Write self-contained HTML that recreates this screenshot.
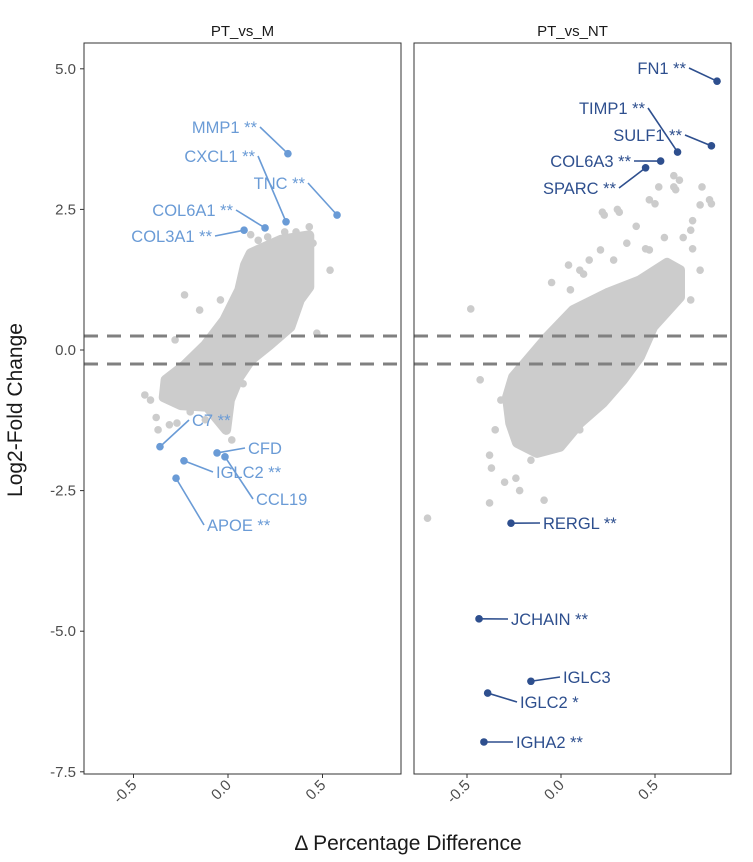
<!DOCTYPE html>
<html><head><meta charset="utf-8"><style>
html,body{margin:0;padding:0;background:#fff;}
svg{display:block;font-family:"Liberation Sans","DejaVu Sans",sans-serif;}
</style></head><body>
<svg id="chart" width="753" height="862" viewBox="0 0 753 862" xmlns="http://www.w3.org/2000/svg"></svg>
<script>
// ---- data ----
const panelNames = ["PT_vs_M", "PT_vs_NT"];
const yTicks = [5.0, 2.5, 0.0, -2.5, -7.5, -5.0];
const yTickLabels = ["5.0", "2.5", "0.0", "-2.5", "-7.5", "-5.0"];
const xTicks = [-0.5, 0.0, 0.5];
const xTickLabels = ["-0.5", "0.0", "0.5"];
const thresholds = [0.25, -0.25];

const leftCoreX = [0.12,0.28,0.43,0.43,0.38,0.33,0.22,0.12,0.06,0.01,-0.01,-0.11,-0.25,-0.34,-0.33,-0.23,-0.12,-0.02,0.06,0.09];
const leftCoreY = [1.72,1.96,2.04,1.12,0.89,0.41,0.09,-0.18,-0.48,-0.89,-1.42,-1.01,-0.98,-0.84,-0.53,-0.27,0.09,0.53,1.07,1.51];
const leftOutX = [-0.23,0.21,0.43,0.18,0.38,0.54,-0.41,-0.37,-0.31,-0.44,-0.12,0.28,0.14,0.06,0.33,-0.15,-0.28,-0.04,0.30,0.45,0.10,-0.20,-0.05,0.32,0.12,0.16,0.36,0.40,-0.38,-0.27,0.02,0.08,0.47];
const leftOutY = [0.98,2.01,2.19,1.69,1.78,1.42,-0.89,-1.42,-1.33,-0.80,-1.24,1.60,1.42,1.07,1.96,0.71,0.18,0.89,2.1,1.9,1.25,-1.1,-0.9,1.5,2.05,1.95,2.1,1.5,-1.2,-1.3,-1.6,-0.6,0.3];

const rightCoreX = [-0.255,-0.074,0.064,0.245,0.42,0.564,0.633,0.633,0.49,0.42,0.33,0.223,0.10,-0.005,-0.128,-0.234,-0.27,-0.287];
const rightCoreY = [-0.48,0.23,0.71,1.01,1.24,1.55,1.42,0.94,0.41,-0.12,-0.53,-0.94,-1.30,-1.72,-1.83,-1.65,-1.30,-0.84];
const rightOutX = [-0.71,-0.48,-0.38,-0.38,-0.24,-0.09,-0.22,-0.16,0.23,0.31,0.63,0.74,0.79,0.69,0.47,0.21,0.10,0.04,0.74,0.69,0.47,0.61,0.05,0.42,-0.43,-0.32,-0.35,0.0,0.10,0.22,0.30,0.40,0.50,0.60,0.70,0.65,0.55,0.35,0.15,0.70,0.75,0.80,0.60,0.52,-0.05,0.12,0.28,0.45,-0.37,-0.30];
const rightOutY = [-2.99,0.73,-1.87,-2.72,-2.28,-2.67,-2.5,-1.96,2.4,2.45,3.02,2.58,2.67,2.13,1.78,1.78,1.42,1.51,1.42,0.89,2.67,2.85,1.07,1.07,-0.53,-0.89,-1.42,-1.24,-1.42,2.45,2.5,2.2,2.6,2.9,2.3,2.0,2.0,1.9,1.6,1.8,2.9,2.6,3.1,2.9,1.2,1.35,1.6,1.8,-2.1,-2.35];

const leftGenes = ["MMP1 **","CXCL1 **","TNC **","COL6A1 **","COL3A1 **","C7 **","CFD","CCL19","IGLC2 **","APOE **"];
const leftGeneX = [0.317,0.307,0.577,0.196,0.085,-0.36,-0.058,-0.016,-0.233,-0.275];
const leftGeneY = [3.49,2.28,2.40,2.17,2.13,-1.72,-1.83,-1.90,-1.97,-2.28];
const rightGenes = ["FN1 **","TIMP1 **","SULF1 **","COL6A3 **","SPARC **","RERGL **","JCHAIN **","IGLC3","IGLC2 *","IGHA2 **"];
const rightGeneX = [0.83,0.62,0.80,0.53,0.45,-0.266,-0.436,-0.16,-0.39,-0.41];
const rightGeneY = [4.78,3.52,3.63,3.36,3.24,-3.08,-4.78,-5.89,-6.10,-6.97];

const leftLabelPos = [[257,127,"end"],[255,156,"end"],[305,183,"end"],[233,210,"end"],[212,236,"end"],[192,420,"start"],[248,448,"start"],[256,499,"start"],[216,472,"start"],[207,525,"start"]];
const rightLabelPos = [[686,68,"end"],[645,108,"end"],[682,135,"end"],[631,161,"end"],[616,188,"end"],[543,523,"start"],[511,619,"start"],[563,677,"start"],[520,702,"start"],[516,742,"start"]];

// ---- layout ----
const NS = "http://www.w3.org/2000/svg";
const svg = document.getElementById("chart");
const plotTop = 43, plotBottom = 774;
const panels = [
  {x0:84, x1:401, cx:228, sx:189, color:"#6a9bd6"},
  {x0:414, x1:731, cx:561, sx:188, color:"#2e4f8e"}
];
const yScale = v => 350 - v * 56.24;
function mk(tag, attrs, parent){ const e=document.createElementNS(NS,tag); for(const k in attrs) e.setAttribute(k,attrs[k]); (parent||svg).appendChild(e); return e; }

const coreX=[leftCoreX,rightCoreX], coreY=[leftCoreY,rightCoreY];
const outX=[leftOutX,rightOutX], outY=[leftOutY,rightOutY];
const genes=[leftGenes,rightGenes], gX=[leftGeneX,rightGeneX], gY=[leftGeneY,rightGeneY], lp=[leftLabelPos,rightLabelPos];

panels.forEach((p,i)=>{
  const xs = v => p.cx + v*p.sx;
  const g = mk("g",{});
  
  
  const st = mk("text",{x:(p.x0+p.x1)/2, y:36, "text-anchor":"middle","font-size":"15",fill:"#1a1a1a"},g);
  st.textContent = panelNames[i];
  
  
  const pts = coreX[i].map((x,k)=>xs(x)+","+yScale(coreY[i][k])).join(" ");
  const poly = mk("polygon",{points:pts, fill:"#cccccc", stroke:"#cccccc","stroke-width":10,"stroke-linejoin":"round"},g);
  
  
  outX[i].forEach((x,k)=>{
    const c = mk("circle",{cx:xs(x), cy:yScale(outY[i][k]), r:3.8, fill:"#cccccc"},g);
    
    
  });
  thresholds.forEach(t=>{
    const l = mk("line",{x1:p.x0,x2:p.x1,y1:yScale(t),y2:yScale(t),stroke:"#808080","stroke-width":3,"stroke-dasharray":"14,9"},g);
    
    
  });
  genes[i].forEach((name,k)=>{
    const px = xs(gX[i][k]), py = yScale(gY[i][k]);
    const [lx,ly,anc] = lp[i][k];
    const ex = anc==="end" ? lx+3 : lx-3;
    const seg = mk("line",{x1:ex,y1:ly,x2:px,y2:py,stroke:p.color,"stroke-width":1.6},g);
    
    
    const c = mk("circle",{cx:px,cy:py,r:3.8,fill:p.color},g);
    
    
    const t = mk("text",{x:lx,y:ly+6,"text-anchor":anc,"font-size":"16.5",fill:p.color},g);
    t.textContent = name;
    
    
  });
  const fr = mk("rect",{x:p.x0,y:plotTop,width:p.x1-p.x0,height:plotBottom-plotTop,fill:"none",stroke:"#333","stroke-width":1},g);
  
  
  xTicks.forEach((v,k)=>{
    const x = xs(v);
    const tk = mk("line",{x1:x,x2:x,y1:plotBottom,y2:plotBottom+4,stroke:"#333"},g);
    
    
    const tl = mk("text",{x:x+4,y:plotBottom+12,"text-anchor":"end","font-size":"15",fill:"#4d4d4d",transform:`rotate(-45 ${x+4} ${plotBottom+12})`},g);
    tl.textContent = xTickLabels[k];
    
    
  });
});

yTicks.forEach((v,k)=>{
  const y = yScale(v);
  const tk = mk("line",{x1:80,x2:84,y1:y,y2:y,stroke:"#333"});
  
  
  const tl = mk("text",{x:76,y:y+5,"text-anchor":"end","font-size":"15",fill:"#4d4d4d"});
  tl.textContent = yTickLabels[k];
  
  
});
const yt = mk("text",{x:22,y:410,"text-anchor":"middle","font-size":"21",fill:"#1a1a1a",transform:"rotate(-90 22 410)"});
yt.textContent = "Log2-Fold Change";


const xt = mk("text",{x:408,y:850,"text-anchor":"middle","font-size":"21",fill:"#1a1a1a"});
xt.textContent = "Δ Percentage Difference";


</script>
</body></html>
